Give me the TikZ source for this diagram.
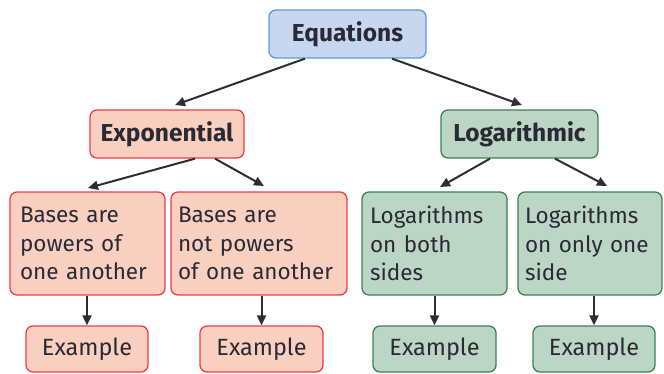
\documentclass[tikz,border=0pt]{standalone}
\usepackage{fontspec}
\setmainfont{Fira Sans}
\usetikzlibrary{arrows.meta}
\definecolor{blueF}{HTML}{C8D7F0}
\definecolor{blueD}{HTML}{5B9BD5}
\definecolor{redF}{HTML}{F9CFBF}
\definecolor{redD}{HTML}{E8404A}
\definecolor{greenF}{HTML}{BBD6C4}
\definecolor{greenD}{HTML}{3F7F55}
\definecolor{txt}{HTML}{2A2A35}
\definecolor{arr}{HTML}{2E2E2E}
\tikzset{
  box/.style={rectangle, rounded corners=7pt, line width=1.3pt, inner sep=0pt, text=txt, font=\fontsize{22.5}{28.5}\selectfont},
  exbox/.style={box, font=\fontsize{23.5}{28}\selectfont},
  head/.style={box, font=\fontsize{24.5}{28}\selectfont\bfseries},
  bluebox/.style={fill=blueF, draw=blueD},
  redbox/.style={fill=redF, draw=redD},
  greenbox/.style={fill=greenF, draw=greenD},
  conn/.style={draw=arr, line width=2pt, -{Triangle[length=10pt,width=9pt]}},
}
\begin{document}
\begin{tikzpicture}[x=1pt,y=-1pt]
\useasboundingbox (0,0) rectangle (664,373);
\node[head,bluebox,minimum width=157pt,minimum height=48pt] (eq) at (347.5,34) {Equations};
\node[head,redbox,minimum width=154pt,minimum height=48pt] (ex) at (167,134) {Exponential};
\node[head,greenbox,minimum width=157pt,minimum height=48pt] (lo) at (519.5,134) {Logarithmic};
\node[box,redbox,minimum width=155pt,minimum height=103pt,text width=135pt,align=left] (b1) at (87.5,243.5) {Bases are\\powers of\\one another};
\node[box,redbox,minimum width=176pt,minimum height=103pt,text width=162pt,align=left] (b2) at (259,243.5) {Bases are\\not powers\\of one another};
\node[box,greenbox,minimum width=145pt,minimum height=103pt,text width=129pt,align=left] (b3) at (434.5,243.5) {Logarithms\\on both\\sides};
\node[box,greenbox,minimum width=144pt,minimum height=103pt,text width=130pt,align=left] (b4) at (590,243.5) {Logarithms\\on only one\\side};
\node[exbox,redbox,minimum width=122pt,minimum height=46pt] (e1) at (87,349) {Example};
\node[exbox,redbox,minimum width=123pt,minimum height=46pt] (e2) at (261.5,349) {Example};
\node[exbox,greenbox,minimum width=123pt,minimum height=46pt] (e3) at (434.5,349) {Example};
\node[exbox,greenbox,minimum width=122pt,minimum height=46pt] (e4) at (594,349) {Example};
\draw[conn] (eq.south -| 305,0) -- (175,105);
\draw[conn] (eq.south -| 392,0) -- (522,105);
\draw[conn] (ex.south -| 195,0) -- (88,188);
\draw[conn] (ex.south -| 215,0) -- (264,186);
\draw[conn] (lo.south -| 490,0) -- (440,187);
\draw[conn] (lo.south -| 555,0) -- (607,186);
\draw[conn] (b1.south -| e1.north) -- (e1.north);
\draw[conn] (b2.south -| e2.north) -- (e2.north);
\draw[conn] (b3.south -| e3.north) -- (e3.north);
\draw[conn] (b4.south -| e4.north) -- (e4.north);
\end{tikzpicture}
\end{document}
